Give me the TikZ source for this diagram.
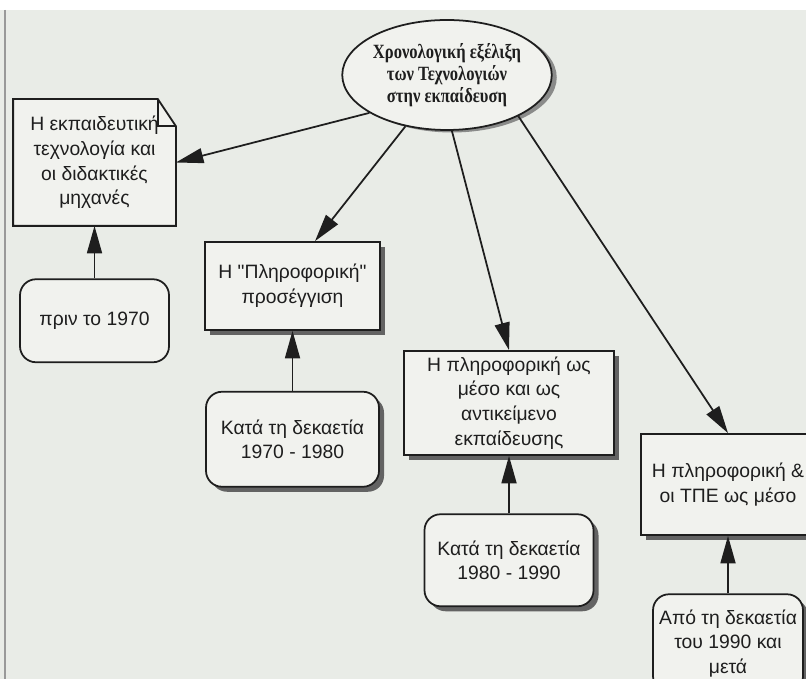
\documentclass[tikz,border=0pt]{standalone}
\usepackage{fontspec}
\setmainfont[Ligatures=TeXOff]{Liberation Sans}
\newfontfamily\titlefont[FakeStretch=0.82]{Liberation Serif}
\usepackage{xcolor}
\usepackage{tikz}
\usetikzlibrary{positioning,calc,shapes.geometric,shadows,arrows.meta}
\definecolor{paper}{RGB}{233,236,231}
\definecolor{boxfill}{RGB}{241,242,238}
\definecolor{ink}{RGB}{30,30,30}

\begin{document}
\begin{tikzpicture}[node distance=1.15cm, line width=1pt,
  plain/.style={draw=ink, fill=boxfill, align=center, text=ink, inner sep=2pt, font=\fontsize{11}{14}\selectfont},
  box/.style={plain, drop shadow={shadow xshift=0.1cm, shadow yshift=-0.1cm, fill=black!70, opacity=0.85}},
  era/.style={box, rounded corners=0.32cm},
  link/.style={draw=ink, -{Triangle[length=0.55cm,width=0.3cm]}}]
\clip (0,0) rectangle (16.12,-13.58);
\fill[paper] (0,-0.2) rectangle (16.12,-13.58);
\draw[black!40, line width=1.2pt] (0.1,-0.2) -- (0.1,-13.58);

\node[ellipse, draw=ink, fill=boxfill, minimum width=3.94cm, minimum height=2.2cm, inner sep=0pt, align=center, text=ink,
  font=\titlefont\bfseries\fontsize{11.5}{12.5}\selectfont,
  drop shadow={shadow xshift=0.1cm, shadow yshift=-0.05cm, fill=black!55, opacity=0.8}] (topic) at (8.94,-1.5)
  {Χρονολογική εξέλιξη\\ των Τεχνολογιών\\ στην εκπαίδευση};

% note with folded corner
\node[plain, draw=none, minimum width=3.22cm, minimum height=2.5cm] (edtech) at (1.89,-3.25)
  {Η εκπαιδευτική\\ τεχνολογία και\\ οι διδακτικές\\ μηχανές};
\fill[paper] ([xshift=-0.36cm]edtech.north east) -- (edtech.north east) -- ([yshift=-0.54cm]edtech.north east) -- cycle;
\draw[ink] (edtech.south west) -- (edtech.north west) -- ([xshift=-0.36cm]edtech.north east)
  -- ([yshift=-0.54cm]edtech.north east) -- (edtech.south east) -- cycle;
\draw[ink] ([xshift=-0.36cm]edtech.north east) |- ([yshift=-0.54cm]edtech.north east);
\node[plain, rounded corners=0.32cm, minimum width=2.98cm, minimum height=1.66cm, below=1.05cm of edtech] (before70) {πριν το 1970};

\node[box, minimum width=3.5cm, minimum height=1.76cm] (infoapp) at (5.85,-5.72) {Η "Πληροφορική"\\ προσέγγιση};
\node[era, minimum width=3.46cm, minimum height=1.9cm, below=1.2cm of infoapp] (dec7080) {Κατά τη δεκαετία\\ 1970 - 1980};

\node[box, minimum width=4.2cm, minimum height=2.08cm] (infomedia) at (10.18,-8.06)
  {Η πληροφορική ως\\ μέσο και ως\\ αντικείμενο\\ εκπαίδευσης};
\node[era, minimum width=3.38cm, minimum height=1.84cm, below=of infomedia] (dec8090) {Κατά τη δεκαετία\\ 1980 - 1990};

\node[box, minimum width=3.48cm, minimum height=2.02cm] (ictmedia) at (14.56,-9.69) {Η πληροφορική \&\\ οι ΤΠΕ ως μέσο};
\node[era, minimum width=3.0cm, minimum height=1.96cm, below=of ictmedia] (after90) {Από τη δεκαετία\\ του 1990 και\\ μετά};

\draw[link] (topic.206) -- (edtech.east);
\draw[link] (topic.231) -- ([xshift=0.45cm]infoapp.north);
\draw[link] (topic.275) -- (infomedia.north);
\draw[link] (topic.330) -- (ictmedia.north);
\draw[link] (before70) -- (edtech);
\draw[link] (dec7080) -- (infoapp);
\draw[link] (dec8090) -- (infomedia);
\draw[link] (after90) -- (ictmedia);
\end{tikzpicture}
\end{document}
